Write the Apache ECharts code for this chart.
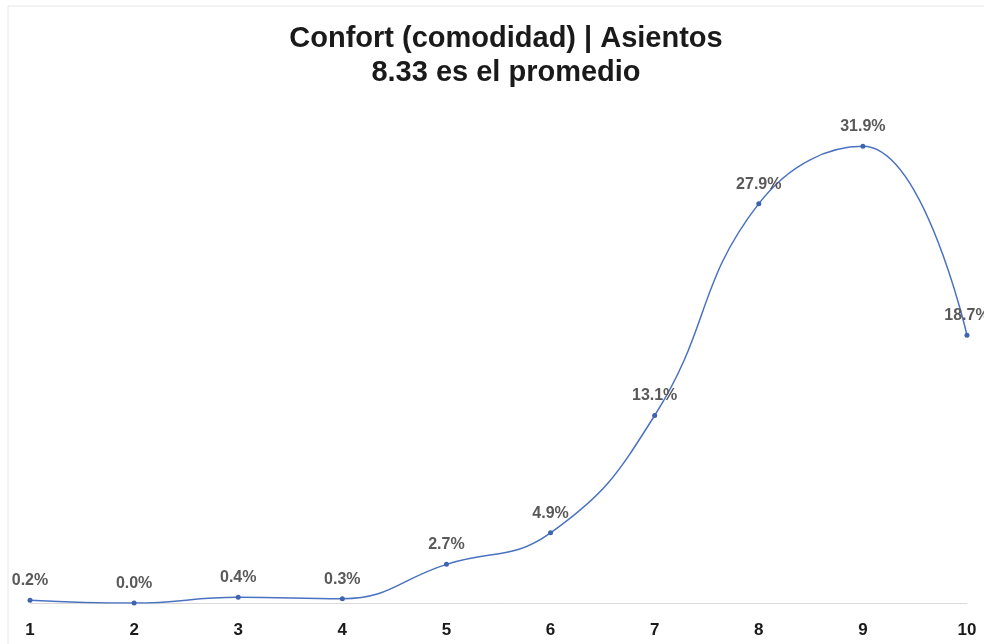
<!DOCTYPE html>
<html>
<head>
<meta charset="utf-8">
<script src="https://cdn.jsdelivr.net/npm/echarts@6/dist/echarts.min.js"></script>
<style>
html,body{margin:0;padding:0;background:#fff;}
#chart{width:984px;height:644px;}
</style>
</head>
<body>
<div id="chart"></div>
<script>
const categories = ['1','2','3','4','5','6','7','8','9','10'];
const values = [0.2, 0.0, 0.4, 0.3, 2.7, 4.9, 13.1, 27.9, 31.9, 18.7];
const titleText = 'Confort (comodidad) | Asientos';
const subtitleText = '8.33 es el promedio';
const FONT = "'Liberation Sans', Arial, Helvetica, sans-serif";

const chart = echarts.init(document.getElementById('chart'));
chart.setOption({
  backgroundColor: '#ffffff',
  animation: false,
  graphic: [{
    type: 'rect',
    shape: { x: 8, y: 6, width: 1000, height: 700 },
    style: { fill: 'none', stroke: '#e6e6e6', lineWidth: 1 },
    silent: true,
    z: -1
  }],
  title: {
    text: titleText + '\n' + subtitleText,
    left: 501,
    textAlign: 'center',
    top: 17,
    textStyle: {
      fontFamily: FONT,
      fontSize: 29,
      fontWeight: 'bold',
      color: '#1a1a1a',
      lineHeight: 34
    }
  },
  grid: { left: 30, right: 17, top: 102, bottom: 41, containLabel: false },
  xAxis: {
    type: 'category',
    data: categories,
    boundaryGap: false,
    axisLine: { lineStyle: { color: '#d9d9d9', width: 1 } },
    axisTick: { show: false },
    axisLabel: {
      margin: 19,
      fontFamily: FONT,
      fontSize: 17,
      fontWeight: 'bold',
      color: '#1a1a1a'
    }
  },
  yAxis: {
    type: 'value',
    min: 0,
    max: 35,
    show: false,
    splitLine: { show: false }
  },
  series: [{
    type: 'line',
    data: values,
    smooth: 0.45,
    symbol: 'circle',
    symbolSize: 5,
    lineStyle: { color: '#4a72c0', width: 1.5 },
    itemStyle: { color: '#3e64b0' },
    label: {
      show: true,
      position: 'top',
      distance: 9,
      formatter: p => p.value.toFixed(1) + '%',
      fontFamily: FONT,
      fontSize: 16,
      fontWeight: 'bold',
      color: '#595959'
    }
  }]
});
</script>
</body>
</html>
